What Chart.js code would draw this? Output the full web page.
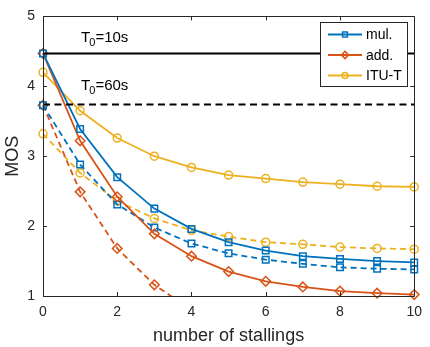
<!DOCTYPE html>
<html>
<head>
<meta charset="utf-8">
<script src="https://cdn.jsdelivr.net/npm/chart.js@4.4.0/dist/chart.umd.min.js"></script>
<style>
  body { margin: 0; background: #fff; }
  canvas { display: block; }
</style>
</head>
<body>
<canvas id="mosChart" width="430" height="347"></canvas>
<script>
// datos
const stallings = [0, 1, 2, 3, 4, 5, 6, 7, 8, 9, 10];
const mulT10 = [4.47, 3.39, 2.70, 2.25, 1.96, 1.77, 1.65, 1.57, 1.53, 1.50, 1.48];
const addT10 = [4.47, 3.22, 2.42, 1.89, 1.57, 1.35, 1.21, 1.13, 1.07, 1.04, 1.02];
const ituT10 = [4.20, 3.65, 3.26, 3.00, 2.84, 2.73, 2.68, 2.63, 2.60, 2.57, 2.56];
const mulT60 = [3.73, 2.88, 2.31, 1.98, 1.75, 1.61, 1.52, 1.46, 1.41, 1.39, 1.38];
const addT60 = [3.73, 2.49, 1.68, 1.16, 0.80];
const ituT60 = [3.32, 2.76, 2.36, 2.11, 1.94, 1.85, 1.77, 1.74, 1.70, 1.68, 1.67];

const seriesNames = ['mul.', 'add.', 'ITU-T'];
const seriesColors = ['#0072BD', '#D95319', '#EDB120'];
const seriesMarkers = ['rect', 'rectRot', 'circle'];
const markerSizes = [4.6, 4.8, 4];

const refLevels = [4.47, 3.74];
const refLabels = ['10s', '60s'];

const xTicks = [0, 2, 4, 6, 8, 10];
const yTicks = [1, 2, 3, 4, 5];

const axisColor = '#262626';
const fontFam = '"Liberation Sans", Arial, Helvetica, sans-serif';

function pts(values) {
  return values.map((v, i) => ({ x: stallings[i], y: v }));
}

function curve(values, k, dashed) {
  return {
    label: dashed ? '' : seriesNames[k],
    data: pts(values),
    borderColor: seriesColors[k],
    borderWidth: 1.8,
    borderDash: dashed ? [6, 4] : [],
    pointStyle: seriesMarkers[k],
    pointRadius: markerSizes[k],
    pointBorderColor: seriesColors[k],
    pointBackgroundColor: 'rgba(0,0,0,0)',
    pointBorderWidth: 1.5,
    tension: 0,
    clip: { left: 8, right: 8, top: 8, bottom: values === addT60 ? 0 : 6 }
  };
}

function refLine(level, dashed) {
  return {
    label: '',
    data: [{ x: stallings[0], y: level }, { x: stallings[stallings.length - 1], y: level }],
    borderColor: '#000',
    borderWidth: 2,
    borderDash: dashed ? [7, 4.5] : [],
    pointRadius: 0,
    tension: 0
  };
}

// marco con ticks hacia dentro, como en matlab
const boxPlugin = {
  id: 'boxPlugin',
  afterDatasetsDraw(chart) {
    const ctx = chart.ctx;
    const a = chart.chartArea;
    const xs = chart.scales.x, ys = chart.scales.y;
    const tl = 4;
    ctx.save();
    ctx.strokeStyle = axisColor;
    ctx.lineWidth = 1;
    ctx.beginPath();
    ctx.rect(Math.round(a.left) + 0.5, Math.round(a.top) + 0.5,
      Math.round(a.right - a.left), Math.round(a.bottom - a.top));
    xTicks.forEach(v => {
      const px = Math.round(xs.getPixelForValue(v)) + 0.5;
      ctx.moveTo(px, a.bottom); ctx.lineTo(px, a.bottom - tl);
      ctx.moveTo(px, a.top); ctx.lineTo(px, a.top + tl);
    });
    yTicks.forEach(v => {
      const py = Math.round(ys.getPixelForValue(v)) + 0.5;
      ctx.moveTo(a.left, py); ctx.lineTo(a.left + tl, py);
      ctx.moveTo(a.right, py); ctx.lineTo(a.right - tl, py);
    });
    ctx.stroke();

    // textos T0
    const offs = [11, 14];
    refLevels.forEach((lv, i) => {
      const x0 = xs.getPixelForValue(1) + 1;
      const y0 = ys.getPixelForValue(lv) - offs[i];
      ctx.fillStyle = '#000';
      ctx.textBaseline = 'alphabetic';
      ctx.textAlign = 'left';
      ctx.font = '15px ' + fontFam;
      ctx.fillText('T', x0, y0);
      const wT = ctx.measureText('T').width;
      ctx.font = '11px ' + fontFam;
      ctx.fillText('0', x0 + wT - 1, y0 + 4);
      const w0 = ctx.measureText('0').width;
      ctx.font = '15px ' + fontFam;
      ctx.fillText('=' + refLabels[i], x0 + wT - 1 + w0, y0);
    });

    // leyenda
    const lx = 320, ly = 22, lw = 87, lh = 64;
    ctx.fillStyle = '#fff';
    ctx.fillRect(lx, ly, lw, lh);
    ctx.strokeStyle = axisColor;
    ctx.lineWidth = 1;
    ctx.strokeRect(lx + 0.5, ly + 0.5, lw, lh);
    seriesNames.forEach((name, k) => {
      const ry = ly + 12.5 + k * 20.5;
      ctx.strokeStyle = seriesColors[k];
      ctx.lineWidth = 1.8;
      ctx.beginPath();
      ctx.moveTo(lx + 8, ry); ctx.lineTo(lx + 42, ry);
      ctx.stroke();
      ctx.lineWidth = 1.5;
      ctx.fillStyle = 'rgba(0,0,0,0)';
      Chart.helpers.drawPoint(ctx, {
        pointStyle: seriesMarkers[k], radius: markerSizes[k] * 0.75,
        borderWidth: 1.5, rotation: 0
      }, lx + 25, ry);
      ctx.fillStyle = '#000';
      ctx.font = '14px ' + fontFam;
      ctx.textBaseline = 'middle';
      ctx.fillText(name, lx + 46, ry + 1);
    });
    ctx.restore();
  }
};

const chart = new Chart(document.getElementById('mosChart'), {
  type: 'line',
  data: {
    datasets: [
      refLine(refLevels[0], false),
      refLine(refLevels[1], true),
      curve(mulT10, 0, false),
      curve(addT10, 1, false),
      curve(ituT10, 2, false),
      curve(mulT60, 0, true),
      curve(addT60, 1, true),
      curve(ituT60, 2, true)
    ]
  },
  options: {
    responsive: false,
    animation: false,
    layout: { padding: { top: 12, right: 12, left: 0, bottom: 0 } },
    plugins: {
      legend: { display: false },
      tooltip: { enabled: false }
    },
    scales: {
      x: {
        type: 'linear',
        min: 0, max: 10,
        afterFit: s => { s.height = 51; },
        afterBuildTicks: s => { s.ticks = xTicks.map(v => ({ value: v })); },
        grid: { display: false, drawTicks: false },
        border: { display: false },
        ticks: { color: axisColor, padding: 8, font: { family: fontFam, size: 14 } },
        title: {
          display: true, text: 'number of stallings', color: axisColor,
          padding: { top: 0, bottom: 0 }, font: { family: fontFam, size: 18 }
        }
      },
      y: {
        min: 1, max: 5,
        afterFit: s => { s.width = 43; },
        afterBuildTicks: s => { s.ticks = yTicks.map(v => ({ value: v })); },
        grid: { display: false, drawTicks: false },
        border: { display: false },
        ticks: { color: axisColor, padding: 8, font: { family: fontFam, size: 14 } },
        title: {
          display: true, text: 'MOS', color: axisColor,
          padding: { top: 2, bottom: 0 }, font: { family: fontFam, size: 18 }
        }
      }
    }
  },
  plugins: [boxPlugin]
});
</script>
</body>
</html>
